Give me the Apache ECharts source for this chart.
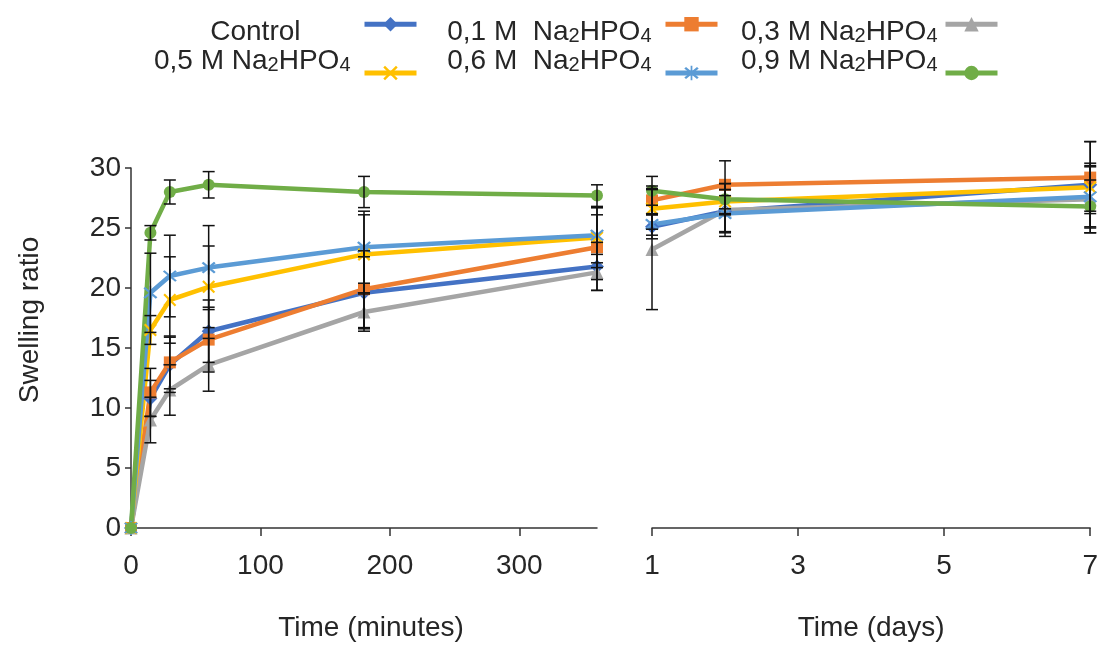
<!DOCTYPE html>
<html>
<head>
<meta charset="utf-8">
<script src="https://cdn.jsdelivr.net/npm/echarts@6/dist/echarts.min.js"></script>
<style>
html,body{margin:0;padding:0;background:#fff;}
#chart{width:1101px;height:647px;}
</style>
</head>
<body>
<div id="chart"></div>
<script>
// ---- data ----
const minutes = [0, 15, 30, 60, 180, 360];
const days = [1, 2, 7];
const minuteTicks = [0, 100, 200, 300];
const dayTicks = [1, 3, 5, 7];
const seriesNames = ['Control', '0,1 M  Na2HPO4', '0,3 M Na2HPO4', '0,5 M Na2HPO4', '0,6 M  Na2HPO4', '0,9 M Na2HPO4'];

const controlMin   = [0, 10.8, 13.6, 16.4, 19.6, 21.8];
const m01Min       = [0, 11.3, 13.8, 15.7, 19.9, 23.4];
const m03Min       = [0, 9.0, 11.5, 13.6, 18.0, 21.3];
const m05Min       = [0, 16.5, 19.0, 20.1, 22.8, 24.2];
const m06Min       = [0, 19.6, 21.0, 21.7, 23.4, 24.4];
const m09Min       = [0, 24.6, 28.0, 28.6, 28.0, 27.7];

const controlMinErr = [0, 1.5, 2.3, 2.6, 3.0, 2.0];
const m01MinErr     = [0, 2.0, 2.2, 2.7, 3.2, 2.7];
const m03MinErr     = [0, 1.9, 2.1, 2.2, 1.6, 1.5];
const m05MinErr     = [0, 1.2, 3.6, 3.4, 3.3, 2.5];
const m06MinErr     = [0, 3.3, 3.4, 3.5, 3.0, 2.3];
const m09MinErr     = [0, 0.6, 1.0, 1.1, 1.3, 0.9];

const controlDay = [25.1, 26.4, 28.6];
const m01Day     = [27.3, 28.6, 29.2];
const m03Day     = [23.2, 26.5, 27.4];
const m05Day     = [26.6, 27.2, 28.4];
const m06Day     = [25.3, 26.2, 27.6];
const m09Day     = [28.1, 27.4, 26.8];

const controlDayErr = [1.0, 1.8, 3.6];
const m01DayErr     = [1.2, 2.0, 3.0];
const m03DayErr     = [5.0, 2.2, 2.8];
const m05DayErr     = [1.7, 1.0, 2.0];
const m06DayErr     = [0.9, 1.5, 2.5];
const m09DayErr     = [1.2, 1.3, 2.2];

// ---- styles ----
const colors = ['#4472C4', '#ED7D31', '#A5A5A5', '#FFC000', '#5B9BD5', '#70AD47'];
const xPath = 'path://M0,1.2L1.2,0L10,8.8L8.8,10ZM8.8,0L10,1.2L1.2,10L0,8.8Z';
const starPath = 'path://M0,1.2L1.2,0L10,8.8L8.8,10ZM8.8,0L10,1.2L1.2,10L0,8.8ZM4.4,-1L5.6,-1L5.6,11L4.4,11Z';
const symbols = ['diamond', 'rect', 'triangle', xPath, starPath, 'circle'];
const symbolSizes = [14, 12, 13, 13, 14, 12];
const FONT = 'Liberation Sans, Arial, sans-serif';
const TXT = '#262626';
const AX = '#333333';

const minData = [controlMin, m01Min, m03Min, m05Min, m06Min, m09Min];
const minErr = [controlMinErr, m01MinErr, m03MinErr, m05MinErr, m06MinErr, m09MinErr];
const dayData = [controlDay, m01Day, m03Day, m05Day, m06Day, m09Day];
const dayErr = [controlDayErr, m01DayErr, m03DayErr, m05DayErr, m06DayErr, m09DayErr];

function errPoints(xs, vals, errs) {
  const out = [];
  vals.forEach((v, i) => { if (errs[i] > 0) out.push([xs[i], v - errs[i], v + errs[i]]); });
  return out;
}
let errLeft = [], errRight = [];
for (let s = 0; s < 6; s++) {
  errLeft = errLeft.concat(errPoints(minutes, minData[s], minErr[s]));
  errRight = errRight.concat(errPoints(days, dayData[s], dayErr[s]));
}

function renderErr(params, api) {
  const x = api.value(0), lo = api.value(1), hi = api.value(2);
  const a = api.coord([x, lo]), b = api.coord([x, hi]);
  const w = 6;
  const st = { stroke: '#111', lineWidth: 1.5 };
  return { type: 'group', children: [
    { type: 'line', shape: { x1: a[0], y1: a[1], x2: b[0], y2: b[1] }, style: st },
    { type: 'line', shape: { x1: a[0] - w, y1: a[1], x2: a[0] + w, y2: a[1] }, style: st },
    { type: 'line', shape: { x1: b[0] - w, y1: b[1], x2: b[0] + w, y2: b[1] }, style: st }
  ]};
}

const series = [];
for (let s = 0; s < 6; s++) {
  series.push({
    name: seriesNames[s], type: 'line', xAxisIndex: 0, yAxisIndex: 0,
    data: minutes.map((m, i) => [m, minData[s][i]]),
    symbol: symbols[s], symbolSize: symbolSizes[s], showAllSymbol: true,
    lineStyle: { color: colors[s], width: 4.5 }, itemStyle: { color: colors[s] },
    z: 2, animation: false
  });
}
for (let s = 0; s < 6; s++) {
  series.push({
    name: seriesNames[s], type: 'line', xAxisIndex: 1, yAxisIndex: 1,
    data: days.map((d, i) => [d, dayData[s][i]]),
    symbol: symbols[s], symbolSize: symbolSizes[s], showAllSymbol: true,
    lineStyle: { color: colors[s], width: 4.5 }, itemStyle: { color: colors[s] },
    z: 2, animation: false
  });
}
const breakLine = { symbol: 'none', silent: true, label: { show: false }, lineStyle: { color: AX, width: 1.5, type: 'solid' }, animation: false };
series.push({
  name: 'errLeft', type: 'custom', xAxisIndex: 0, yAxisIndex: 0, data: errLeft,
  encode: { x: 0, y: [1, 2] }, renderItem: renderErr, clip: false, z: 3, animation: false,
  markLine: Object.assign({ data: [[{ coord: [360, -1.2] }, { coord: [360, 2.2] }]] }, breakLine)
});
series.push({
  name: 'errRight', type: 'custom', xAxisIndex: 1, yAxisIndex: 1, data: errRight,
  encode: { x: 0, y: [1, 2] }, renderItem: renderErr, clip: false, z: 3, animation: false,
  markLine: Object.assign({ data: [[{ coord: [1, -1.3] }, { coord: [1, 1.6] }]] }, breakLine)
});

function legendText(pad) {
  return {
    fontSize: 28, color: TXT, fontFamily: FONT, padding: pad,
    rich: { sub: { fontSize: 20, color: TXT, fontFamily: FONT, verticalAlign: 'bottom', lineHeight: 20 } }
  };
}
function fmt(name) { return name.replace('Na2HPO4', 'Na{sub|2}HPO{sub|4}'); }
// row 1: text sits below the icon; row 2: text sits above the icon
const legendPos = [
  { right: 682, top: 17, pad: [16, 59, 0, 0] }, { right: 381, top: 17, pad: [16, 9, 0, 0] }, { right: 101, top: 17, pad: [16, 3, 0, 0] },
  { right: 682, top: 47, pad: [0, 9, 24, 0] }, { right: 381, top: 47, pad: [0, 9, 24, 0] }, { right: 101, top: 47, pad: [0, 3, 24, 0] }
];
const legends = seriesNames.map((n, i) => ({
  data: [n], align: 'right', itemWidth: 52, itemHeight: 18, padding: 0,
  right: legendPos[i].right, top: legendPos[i].top,
  lineStyle: { width: 5 },
  formatter: fmt, textStyle: legendText(legendPos[i].pad), selectedMode: false
}));

const option = {
  backgroundColor: '#fff',
  animation: false,
  legend: legends,
  grid: [
    { left: 131, right: 504, top: 168, bottom: 118 },
    { left: 652, right: 9, top: 168, bottom: 118 }
  ],
  xAxis: [
    {
      type: 'value', gridIndex: 0, min: 0, max: 360,
      name: 'Time (minutes)', nameLocation: 'middle', nameGap: 86,
      nameTextStyle: { fontSize: 28, color: TXT, fontFamily: FONT, padding: [0, 0, 0, 14] },
      axisLine: { show: true, lineStyle: { color: AX, width: 1.5 } },
      axisTick: { show: true, length: 8, customValues: minuteTicks, lineStyle: { color: AX, width: 1.5 } },
      axisLabel: { fontSize: 28, color: TXT, fontFamily: FONT, margin: 24, customValues: minuteTicks },
      splitLine: { show: false }
    },
    {
      type: 'value', gridIndex: 1, min: 1, max: 7,
      name: 'Time (days)', nameLocation: 'middle', nameGap: 86,
      nameTextStyle: { fontSize: 28, color: TXT, fontFamily: FONT },
      axisLine: { show: true, lineStyle: { color: AX, width: 1.5 } },
      axisTick: { show: true, length: 8, customValues: dayTicks, lineStyle: { color: AX, width: 1.5 } },
      axisLabel: { fontSize: 28, color: TXT, fontFamily: FONT, margin: 24, customValues: dayTicks },
      splitLine: { show: false }
    }
  ],
  yAxis: [
    {
      type: 'value', gridIndex: 0, min: 0, max: 30, interval: 5,
      name: 'Swelling ratio', nameLocation: 'middle', nameGap: 87, nameRotate: 90,
      nameTextStyle: { fontSize: 28, color: TXT, fontFamily: FONT, padding: [0, 0, 0, 56] },
      axisLine: { show: true, lineStyle: { color: AX, width: 1.5 } },
      axisTick: { show: true, length: 6, lineStyle: { color: AX, width: 1.5 } },
      axisLabel: { fontSize: 28, color: TXT, fontFamily: FONT, margin: 10 },
      splitLine: { show: false }
    },
    {
      type: 'value', gridIndex: 1, min: 0, max: 30, interval: 5, show: false,
      splitLine: { show: false }
    }
  ],
  series: series
};
const chart = echarts.init(document.getElementById('chart'), null, { renderer: 'canvas' });
chart.setOption(option);
</script>
</body>
</html>
